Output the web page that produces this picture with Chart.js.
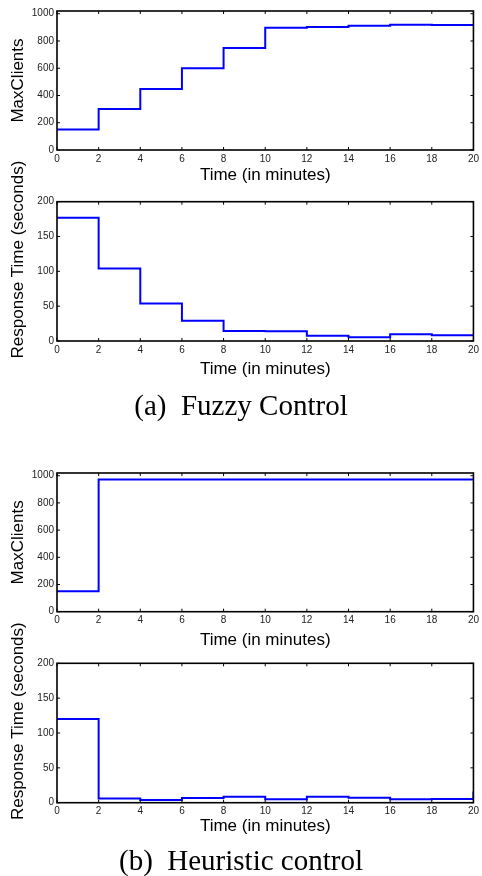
<!DOCTYPE html>
<html>
<head>
<meta charset="utf-8">
<script src="https://cdn.jsdelivr.net/npm/chart.js@4.4.1/dist/chart.umd.min.js"></script>
<style>
  body { margin: 0; background: #fff; width: 482px; height: 876px; position: relative; overflow: hidden; }
  canvas { position: absolute; left: 0; }
  .cap {
    position: absolute; left: 0; width: 482px; text-align: center;
    font-family: "Liberation Serif", "Times New Roman", serif; font-size: 29px;
    line-height: 29px; color: #000; white-space: pre;
  }
</style>
</head>
<body>
<canvas id="c1"></canvas>
<canvas id="c2"></canvas>
<canvas id="c3"></canvas>
<canvas id="c4"></canvas>
<div class="cap" style="top:391px">(a)  Fuzzy Control</div>
<div class="cap" style="top:846px">(b)  Heuristic control</div>
<script>
// sample times (minutes), one value per step start, last one is the value at t=20
const times = [0, 2, 4, 6, 8, 10, 12, 14, 16, 18, 20];
const fuzzyClients = [150, 300, 448, 599, 748, 898, 903, 912, 920, 917, 917];
const fuzzyResponse = [177, 104, 54, 29, 14.5, 14, 7.7, 5.5, 9.6, 8.1, 8.1];
const heuristicClients = [151, 973, 973, 973, 973, 973, 973, 973, 973, 973, 973];
const heuristicResponse = [120, 6.2, 3.9, 6.7, 8.6, 4.8, 8.6, 7.2, 4.8, 5.3, 16];

const timeTicks = [0, 2, 4, 6, 8, 10, 12, 14, 16, 18, 20];
const clientTicks = [0, 200, 400, 600, 800, 1000];
const responseTicks = [0, 50, 100, 150, 200];

const xLabel = "Time (in minutes)";
const clientsLabel = "MaxClients";
const responseLabel = "     Response Time (seconds)";

const SANS = "'Liberation Sans', Arial, Helvetica, sans-serif";
const TICK_LEN = 3;

// MATLAB style closed box with inward ticks on all sides
const boxPlugin = {
  id: "matlabBox",
  afterDatasetsDraw(chart) {
    const { ctx, chartArea: a, scales } = chart;
    ctx.save();
    ctx.strokeStyle = "#000";
    ctx.lineWidth = 1;
    ctx.beginPath();
    scales.x.ticks.forEach((t) => {
      const px = scales.x.getPixelForValue(t.value);
      ctx.moveTo(px, a.bottom);
      ctx.lineTo(px, a.bottom - TICK_LEN);
      ctx.moveTo(px, a.top);
      ctx.lineTo(px, a.top + TICK_LEN);
    });
    scales.y.ticks.forEach((t) => {
      const py = scales.y.getPixelForValue(t.value);
      ctx.moveTo(a.left, py);
      ctx.lineTo(a.left + TICK_LEN, py);
      ctx.moveTo(a.right, py);
      ctx.lineTo(a.right - TICK_LEN, py);
    });
    ctx.stroke();
    ctx.lineWidth = 1.6;
    ctx.strokeRect(a.left, a.top, a.right - a.left, a.bottom - a.top);
    ctx.restore();
  },
};

function makeChart(id, top, height, padTop, xHeight, values, yMax, yTicks, yTitle) {
  const canvas = document.getElementById(id);
  canvas.style.top = top + "px";
  canvas.width = 482;
  canvas.height = height;

  const points = times.map((t, i) => ({ x: t, y: values[i] }));

  return new Chart(canvas, {
    type: "line",
    data: {
      datasets: [
        {
          data: points,
          stepped: true,
          borderColor: "#0000ff",
          borderWidth: 2,
          pointRadius: 0,
          fill: false,
        },
      ],
    },
    options: {
      responsive: false,
      animation: false,
      layout: { padding: { top: padTop, right: 5, left: 0, bottom: 0 } },
      plugins: { legend: { display: false }, tooltip: { enabled: false } },
      scales: {
        x: {
          type: "linear",
          min: 0,
          max: 20,
          grid: { display: false, drawTicks: false },
          border: { display: false },
          afterBuildTicks: (s) => {
            s.ticks = timeTicks.map((v) => ({ value: v }));
          },
          ticks: {
            padding: 3,
            maxRotation: 0,
            autoSkip: false,
            color: "#222",
            font: { family: SANS, size: 10 },
            callback: (v) => String(v),
          },
          title: {
            display: true,
            text: xLabel,
            color: "#000",
            font: { family: SANS, size: 17 },
            padding: { top: 0, bottom: 2 },
          },
          afterFit: (s) => {
            s.height = xHeight;
          },
        },
        y: {
          min: 0,
          max: yMax,
          grid: { display: false, drawTicks: false },
          border: { display: false },
          afterBuildTicks: (s) => {
            s.ticks = yTicks.map((v) => ({ value: v }));
          },
          ticks: {
            padding: 3,
            color: "#222",
            font: { family: SANS, size: 10 },
            callback: (v) => String(v),
          },
          title: {
            display: true,
            text: yTitle,
            color: "#000",
            font: { family: SANS, size: 17 },
            padding: { top: 8, bottom: 0 },
          },
          afterFit: (s) => {
            s.width = 57;
          },
        },
      },
    },
    plugins: [boxPlugin],
  });
}

makeChart("c1", 0, 188, 11, 38, fuzzyClients, 1020, clientTicks, clientsLabel);
makeChart("c2", 150, 232, 51.7, 41, fuzzyResponse, 200, responseTicks, responseLabel);
makeChart("c3", 420, 233, 53, 41.3, heuristicClients, 1020, clientTicks, clientsLabel);
makeChart("c4", 612, 227, 51.3, 36.3, heuristicResponse, 200, responseTicks, responseLabel);
</script>
</body>
</html>
